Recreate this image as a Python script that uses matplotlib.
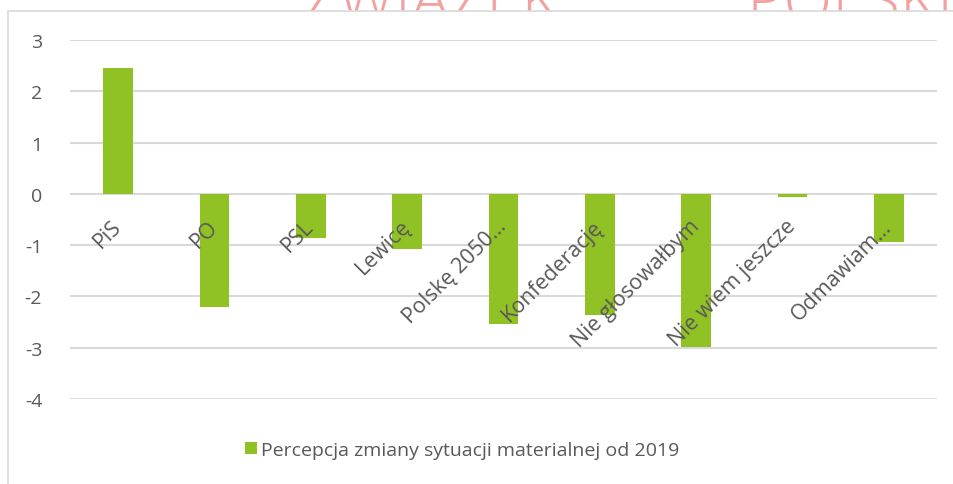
import matplotlib
matplotlib.use("Agg")
import matplotlib.pyplot as plt
from matplotlib.patches import Rectangle

categories = ["PiS", "PO", "PSL", "Lewicę", "Polskę 2050…", "Konfederację",
              "Nie głosowałbym", "Nie wiem jeszcze", "Odmawiam…"]
values = [2.45, -2.21, -0.86, -1.08, -2.53, -2.36, -2.99, -0.06, -0.93]
series_name = "Percepcja zmiany sytuacji materialnej od 2019"
yticks = [3, 2, 1, 0, -1, -2, -3, -4]

BAR = "#90C125"
GRID = "#D9D9D9"
TXT = "#595959"
FONT = ["Open Sans", "DejaVu Sans"]

plt.rcParams['font.family'] = FONT

W, H = 954, 485
fig = plt.figure(figsize=(W / 100, H / 100), dpi=100)
fig.patch.set_facecolor("white")

# watermark behind the chart frame (top strip)
fig.text(430 / W, 1 - 6 / H, "ZWIĄZEK", fontsize=46, color="#F2A0A0",
         ha="center", va="center", fontweight="light", zorder=0)
fig.text(850 / W, 1 - 6 / H, "POLSKI", fontsize=46, color="#F2A0A0",
         ha="center", va="center", fontweight="light", zorder=0)

# chart frame
frame = Rectangle((8 / W, -0.05), 1.2, (H - 12) / H + 0.05, transform=fig.transFigure,
                  facecolor="white", edgecolor="#D9D9D9", linewidth=1.2, zorder=1)
fig.patches.append(frame)

ax = fig.add_axes([70 / W, (H - 400) / H, (937 - 70) / W, (400 - 41) / H], zorder=2)
ax.set_facecolor("none")
x = list(range(len(categories)))
bars = ax.bar(x, values, width=0.31, color=BAR, zorder=3, label=series_name)

ax.set_xlim(-0.5, len(categories) - 0.5)
ax.set_ylim(-4, 3)
ax.set_yticks(yticks)
ax.set_yticklabels([str(v) for v in yticks])
ax.yaxis.grid(True, color=GRID, linewidth=1.5, zorder=0)
ax.set_axisbelow(True)
for s in ["left", "right", "top"]:
    ax.spines[s].set_visible(False)
ax.spines["bottom"].set_position(("data", 0))
ax.spines["bottom"].set_visible(False)
ax.xaxis.set_zorder(5)
ax.tick_params(axis="y", length=0, pad=20, labelsize=14, labelcolor=TXT)
ax.tick_params(axis="x", length=0, pad=21, labelsize=15.5, labelcolor=TXT)
ax.set_xticks(x)
ax.set_xticklabels(categories, rotation=45, ha="right", va="center",
                   rotation_mode="anchor")

leg = fig.legend(handles=[bars], labels=[series_name], loc="center",
                 bbox_to_anchor=(462 / W, 1 - 451 / H), frameon=False,
                 fontsize=14, labelcolor=TXT, handlelength=0.6, handleheight=0.6,
                 handletextpad=0.2)

fig.savefig("out.png", dpi=100, facecolor="white")
